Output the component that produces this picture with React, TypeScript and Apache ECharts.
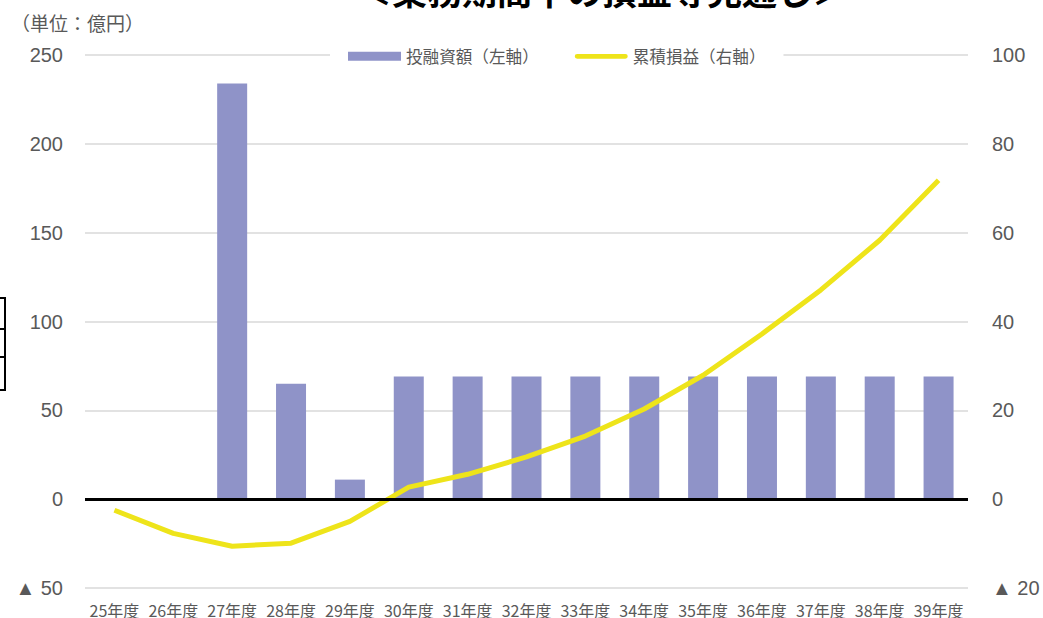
import React, { useEffect, useRef } from "react";
import * as echarts from "echarts";

const categories = ["25年度", "26年度", "27年度", "28年度", "29年度", "30年度", "31年度", "32年度", "33年度", "34年度", "35年度", "36年度", "37年度", "38年度", "39年度"];
const investment = [0, 0, 234, 65, 11, 69, 69, 69, 69, 69, 69, 69, 69, 69, 69];
const cumulativePL = [-2.5, -7.7, -10.6, -9.9, -5.0, 2.7, 5.6, 9.5, 14.2, 20.3, 27.9, 37.2, 47.1, 58.3, 71.8];
const titleText = "＜業務期間中の損益等見通し＞";
const unitText = "（単位：億円）";
const seriesNames = ["投融資額（左軸）", "累積損益（右軸）"];

const fmt = (v: number) => (v < 0 ? "▲ " + Math.abs(v) : String(v));

const lineIcon = "path://M2.5,0 L52.5,0 A2.5,2.5 0 0 1 52.5,5 L2.5,5 A2.5,2.5 0 0 1 2.5,0 Z";

export default function App() {
  const ref = useRef<HTMLDivElement>(null);
  useEffect(() => {
    if (!ref.current) return;
    const chart = echarts.init(ref.current, null, { renderer: "svg" });
    const font = "'Liberation Sans', 'Noto Sans CJK JP', sans-serif";
    const cjk = "'Noto Sans CJK JP', sans-serif";
    chart.setOption({
      animation: false,
      backgroundColor: "#ffffff",
      textStyle: { fontFamily: font },
      grid: { left: 85, right: 75, top: 55, bottom: 30, containLabel: false },
      legend: {
        left: 330,
        top: 45,
        padding: [3, 18],
        backgroundColor: "#ffffff",
        itemGap: 36,
        itemWidth: 53,
        itemHeight: 9,
        textStyle: { color: "#595959", fontSize: 16.6, fontFamily: cjk },
        data: [
          { name: seriesNames[0], icon: "rect" },
          { name: seriesNames[1], icon: lineIcon },
        ],
      },
      xAxis: {
        type: "category",
        data: categories,
        axisLine: { show: false },
        axisTick: { show: false },
        axisLabel: {
          color: "#595959",
          fontSize: 16,
          margin: 14,
          interval: 0,
          fontFamily: cjk,
        },
      },
      yAxis: [
        {
          type: "value",
          min: -50,
          max: 250,
          interval: 50,
          axisLine: { show: false },
          axisTick: { show: false },
          splitLine: { lineStyle: { color: "#d9d9d9", width: 1.5 } },
          axisLabel: { color: "#595959", fontSize: 20, margin: 22, formatter: fmt },
        },
        {
          type: "value",
          min: -20,
          max: 100,
          interval: 20,
          axisLine: { show: false },
          axisTick: { show: false },
          splitLine: { show: false },
          axisLabel: { color: "#595959", fontSize: 20, margin: 24, formatter: fmt },
        },
      ],
      series: [
        {
          name: seriesNames[0],
          type: "bar",
          data: investment,
          barWidth: 30,
          itemStyle: { color: "#8F93C8" },
          markLine: {
            silent: true,
            symbol: "none",
            label: { show: false },
            lineStyle: { color: "#000000", width: 3, type: "solid" },
            data: [{ yAxis: 0 }],
          },
        },
        {
          name: seriesNames[1],
          type: "line",
          yAxisIndex: 1,
          data: cumulativePL,
          symbol: "none",
          lineStyle: { color: "#EEE41A", width: 5 },
          itemStyle: { color: "#EEE41A" },
        },
      ],
      graphic: [
        {
          type: "text",
          x: 602,
          y: 7,
          style: {
            text: titleText,
            fontSize: 35,
            fontWeight: "bold",
            fill: "#000000",
            textAlign: "center",
            textVerticalAlign: "bottom",
            fontFamily: cjk,
          },
        },
        {
          type: "text",
          x: 11,
          y: 22,
          style: {
            text: unitText,
            fontSize: 19,
            fill: "#595959",
            textVerticalAlign: "middle",
            fontFamily: cjk,
          },
        },
        {
          type: "rect",
          shape: { x: -10, y: 298, width: 15, height: 92 },
          style: { fill: "none", stroke: "#000000", lineWidth: 2 },
        },
        {
          type: "line",
          shape: { x1: -10, y1: 329, x2: 5, y2: 329 },
          style: { stroke: "#000000", lineWidth: 2 },
        },
        {
          type: "line",
          shape: { x1: -10, y1: 357, x2: 5, y2: 357 },
          style: { stroke: "#000000", lineWidth: 2 },
        },
      ],
    });
    return () => chart.dispose();
  }, []);
  return <div ref={ref} style={{ width: 1043, height: 618, position: "fixed", left: 0, top: 0 }} />;
}
